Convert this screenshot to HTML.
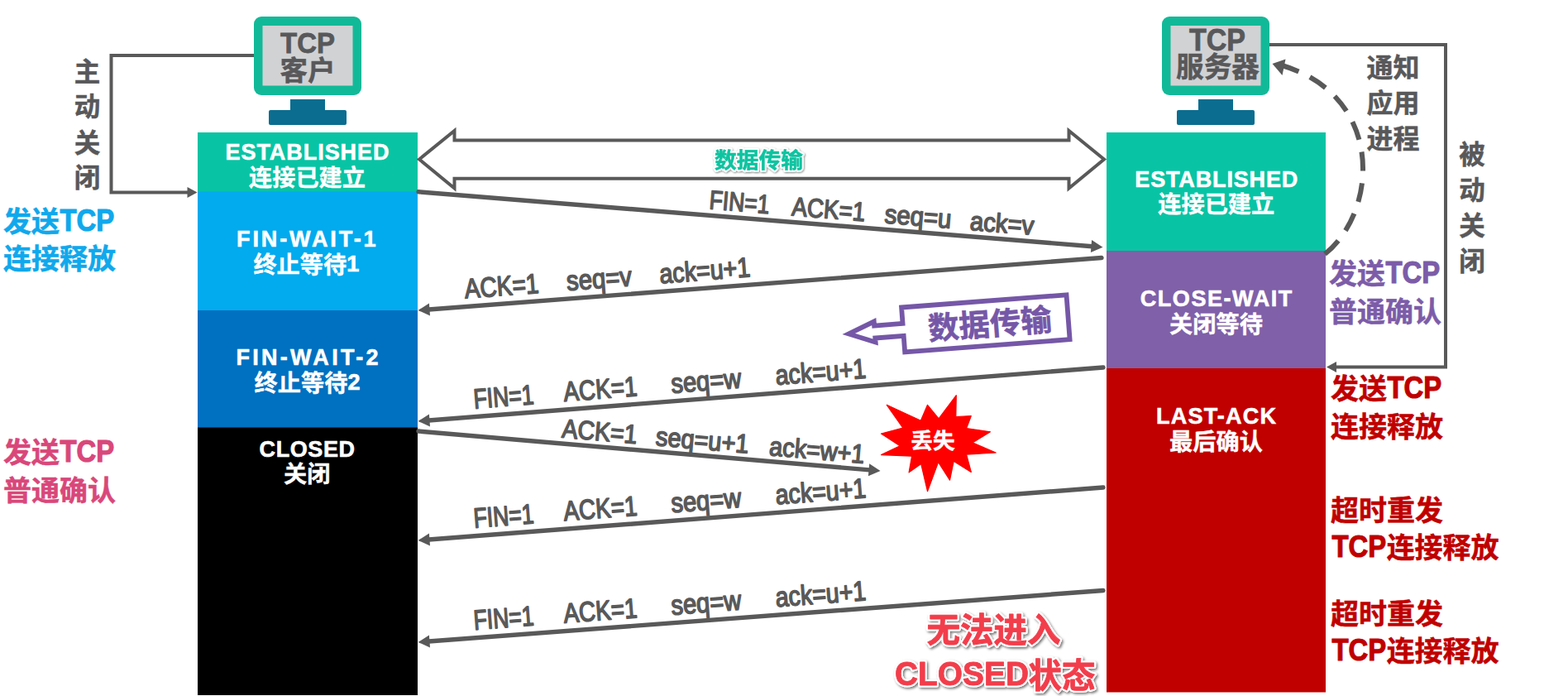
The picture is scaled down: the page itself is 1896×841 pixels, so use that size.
<!DOCTYPE html>
<html lang="zh-CN">
<head>
<meta charset="utf-8">
<title>TCP 连接释放 - 最后确认丢失</title>
<style>
html,body{margin:0;padding:0;background:#fff;overflow:hidden}
svg{display:block}
text{font-family:"Liberation Sans","Noto Sans CJK SC",sans-serif}
</style>
</head>
<body>
<svg width="1896" height="841" viewBox="0 0 1896 841">
<defs><filter id="sh" x="-10%" y="-30%" width="120%" height="160%"><feDropShadow dx="0.8" dy="1" stdDeviation="1.2" flood-color="#000" flood-opacity="0.5"/></filter><filter id="sh2" x="-10%" y="-30%" width="120%" height="160%"><feDropShadow dx="1.6" dy="1.8" stdDeviation="1.4" flood-color="#000" flood-opacity="0.55"/></filter></defs>
<rect x="239" y="160" width="266" height="72" fill="#08c4a4"/>
<rect x="239" y="231.5" width="266" height="144" fill="#02aaee"/>
<rect x="239" y="375" width="266" height="142" fill="#0070c0"/>
<rect x="239" y="516.5" width="266" height="323.5" fill="#000000"/>
<rect x="1338" y="160" width="265" height="143.5" fill="#08c4a4"/>
<rect x="1338" y="303" width="265" height="142.5" fill="#8060a8"/>
<rect x="1338" y="445" width="265" height="391.5" fill="#c00000"/>
<g><rect x="307.0" y="20" width="130" height="95" rx="9" fill="#12b998"/><rect x="317.5" y="31" width="109" height="72.5" fill="#d1d2d4"/><rect x="351.0" y="120" width="42" height="14" fill="#0b6d90"/><rect x="325.0" y="133" width="94" height="18" rx="2" fill="#0b6d90"/></g>
<g><rect x="1405.0" y="20" width="130" height="95" rx="9" fill="#12b998"/><rect x="1415.5" y="31" width="109" height="72.5" fill="#d1d2d4"/><rect x="1449.0" y="120" width="42" height="14" fill="#0b6d90"/><rect x="1423.0" y="133" width="94" height="18" rx="2" fill="#0b6d90"/></g>
<text x="372.00" y="64.30" font-size="35.60" text-anchor="middle" textLength="66.00" lengthAdjust="spacingAndGlyphs" fill="#58585a" font-weight="bold" stroke="#58585a" stroke-width="0.8">TCP</text>
<text x="338.50" y="96.50" font-size="33.50" fill="#58585a" font-weight="bold" stroke="#58585a" stroke-width="0.5">客户</text>
<text x="1472.00" y="60.80" font-size="36.20" text-anchor="middle" textLength="68.00" lengthAdjust="spacingAndGlyphs" fill="#58585a" font-weight="bold" stroke="#58585a" stroke-width="0.8">TCP</text>
<text x="1422.10" y="93.30" font-size="33.60" fill="#58585a" font-weight="bold" stroke="#58585a" stroke-width="0.5">服务器</text>
<text x="371.50" y="193.00" font-size="27.00" text-anchor="middle" textLength="198.00" lengthAdjust="spacing" fill="#ffffff" font-weight="bold" stroke="#fff" stroke-width="0.6">ESTABLISHED</text><text x="301.00" y="224.50" font-size="28.20" fill="#ffffff" font-weight="bold" stroke="#ffffff" stroke-width="0.4">连接已建立</text>
<text x="370.30" y="298.30" font-size="27.00" text-anchor="middle" textLength="168.50" lengthAdjust="spacing" fill="#ffffff" font-weight="bold" stroke="#fff" stroke-width="0.6">FIN-WAIT-1</text><text x="306.39" y="329.80" font-size="28.20" fill="#ffffff" font-weight="bold" stroke="#ffffff" stroke-width="0.4">终止等待</text><text x="419.19" y="328.30" font-size="27.00" fill="#ffffff" font-weight="bold" stroke="#fff" stroke-width="0.7">1</text>
<text x="371.50" y="441.30" font-size="27.00" text-anchor="middle" textLength="172.00" lengthAdjust="spacing" fill="#ffffff" font-weight="bold" stroke="#fff" stroke-width="0.6">FIN-WAIT-2</text><text x="307.59" y="472.80" font-size="28.20" fill="#ffffff" font-weight="bold" stroke="#ffffff" stroke-width="0.4">终止等待</text><text x="420.39" y="471.30" font-size="27.00" fill="#ffffff" font-weight="bold" stroke="#fff" stroke-width="0.7">2</text>
<text x="371.30" y="551.50" font-size="27.00" text-anchor="middle" textLength="115.50" lengthAdjust="spacing" fill="#ffffff" font-weight="bold" stroke="#fff" stroke-width="0.6">CLOSED</text><text x="343.10" y="583.00" font-size="28.20" fill="#ffffff" font-weight="bold" stroke="#ffffff" stroke-width="0.4">关闭</text>
<text x="1470.80" y="225.80" font-size="27.00" text-anchor="middle" textLength="197.00" lengthAdjust="spacing" fill="#ffffff" font-weight="bold" stroke="#fff" stroke-width="0.6">ESTABLISHED</text><text x="1400.30" y="257.30" font-size="28.20" fill="#ffffff" font-weight="bold" stroke="#ffffff" stroke-width="0.4">连接已建立</text>
<text x="1470.50" y="370.00" font-size="27.00" text-anchor="middle" textLength="183.50" lengthAdjust="spacing" fill="#ffffff" font-weight="bold" stroke="#fff" stroke-width="0.6">CLOSE-WAIT</text><text x="1414.10" y="401.50" font-size="28.20" fill="#ffffff" font-weight="bold" stroke="#ffffff" stroke-width="0.4">关闭等待</text>
<text x="1470.50" y="512.00" font-size="27.00" text-anchor="middle" textLength="145.00" lengthAdjust="spacing" fill="#ffffff" font-weight="bold" stroke="#fff" stroke-width="0.6">LAST-ACK</text><text x="1414.10" y="543.50" font-size="28.20" fill="#ffffff" font-weight="bold" stroke="#ffffff" stroke-width="0.4">最后确认</text>
<g fill="none" stroke="#595959" stroke-width="4" stroke-linejoin="miter">
<path d="M307 67 H134.5 V232.5 H229"/>
<path d="M1535 54 H1748 V443.5 H1613"/>
</g>
<path d="M238.5 232.5 L226.5 226 V239 Z" fill="#595959"/>
<path d="M1604 443.5 L1616 437 V450 Z" fill="#595959"/>
<text x="89.75" y="97.50" font-size="31.50" fill="#58585a" font-weight="bold" stroke="#58585a" stroke-width="0.5">主</text><text x="89.75" y="140.00" font-size="31.50" fill="#58585a" font-weight="bold" stroke="#58585a" stroke-width="0.5">动</text><text x="89.75" y="183.50" font-size="31.50" fill="#58585a" font-weight="bold" stroke="#58585a" stroke-width="0.5">关</text><text x="89.75" y="226.00" font-size="31.50" fill="#58585a" font-weight="bold" stroke="#58585a" stroke-width="0.5">闭</text>
<text x="1764.25" y="197.50" font-size="31.50" fill="#58585a" font-weight="bold" stroke="#58585a" stroke-width="0.5">被</text><text x="1764.25" y="240.50" font-size="31.50" fill="#58585a" font-weight="bold" stroke="#58585a" stroke-width="0.5">动</text><text x="1764.25" y="283.50" font-size="31.50" fill="#58585a" font-weight="bold" stroke="#58585a" stroke-width="0.5">关</text><text x="1764.25" y="326.50" font-size="31.50" fill="#58585a" font-weight="bold" stroke="#58585a" stroke-width="0.5">闭</text>
<text x="1652.50" y="92.50" font-size="32.00" fill="#58585a" font-weight="bold" stroke="#58585a" stroke-width="0.5">通知</text>
<text x="1652.50" y="135.50" font-size="32.00" fill="#58585a" font-weight="bold" stroke="#58585a" stroke-width="0.5">应用</text>
<text x="1652.50" y="178.50" font-size="32.00" fill="#58585a" font-weight="bold" stroke="#58585a" stroke-width="0.5">进程</text>
<text x="4.00" y="279.50" font-size="34.00" fill="#10a8ec" font-weight="bold" stroke="#10a8ec" stroke-width="0.5">发送</text><text x="72.50" y="278.50" font-size="36.38" textLength="65.64" lengthAdjust="spacingAndGlyphs" fill="#10a8ec" font-weight="bold" stroke="#10a8ec" stroke-width="1.1">TCP</text>
<text x="4.00" y="325.00" font-size="34.00" fill="#10a8ec" font-weight="bold" stroke="#10a8ec" stroke-width="0.5">连接释放</text>
<text x="4.00" y="559.00" font-size="34.00" fill="#d9477a" font-weight="bold" stroke="#d9477a" stroke-width="0.5">发送</text><text x="72.50" y="558.00" font-size="36.38" textLength="65.64" lengthAdjust="spacingAndGlyphs" fill="#d9477a" font-weight="bold" stroke="#d9477a" stroke-width="1.1">TCP</text>
<text x="4.00" y="605.00" font-size="34.00" fill="#d9477a" font-weight="bold" stroke="#d9477a" stroke-width="0.5">普通确认</text>
<text x="1607.00" y="343.00" font-size="34.00" fill="#7c5ca8" font-weight="bold" stroke="#7c5ca8" stroke-width="0.5">发送</text><text x="1675.50" y="342.00" font-size="36.38" textLength="65.64" lengthAdjust="spacingAndGlyphs" fill="#7c5ca8" font-weight="bold" stroke="#7c5ca8" stroke-width="1.1">TCP</text>
<text x="1607.00" y="389.00" font-size="34.00" fill="#7c5ca8" font-weight="bold" stroke="#7c5ca8" stroke-width="0.5">普通确认</text>
<text x="1609.00" y="482.00" font-size="34.00" fill="#c00000" font-weight="bold" stroke="#c00000" stroke-width="0.5">发送</text><text x="1677.50" y="481.00" font-size="36.38" textLength="65.64" lengthAdjust="spacingAndGlyphs" fill="#c00000" font-weight="bold" stroke="#c00000" stroke-width="1.1">TCP</text>
<text x="1609.00" y="528.00" font-size="34.00" fill="#c00000" font-weight="bold" stroke="#c00000" stroke-width="0.5">连接释放</text>
<text x="1609.00" y="629.00" font-size="34.00" fill="#c00000" font-weight="bold" stroke="#c00000" stroke-width="0.5">超时重发</text>
<text x="1610.50" y="673.00" font-size="36.38" textLength="65.64" lengthAdjust="spacingAndGlyphs" fill="#c00000" font-weight="bold" stroke="#c00000" stroke-width="1.1">TCP</text><text x="1676.64" y="674.00" font-size="34.00" fill="#c00000" font-weight="bold" stroke="#c00000" stroke-width="0.5">连接释放</text>
<text x="1609.00" y="753.50" font-size="34.00" fill="#c00000" font-weight="bold" stroke="#c00000" stroke-width="0.5">超时重发</text>
<text x="1610.50" y="797.50" font-size="36.38" textLength="65.64" lengthAdjust="spacingAndGlyphs" fill="#c00000" font-weight="bold" stroke="#c00000" stroke-width="1.1">TCP</text><text x="1676.64" y="798.50" font-size="34.00" fill="#c00000" font-weight="bold" stroke="#c00000" stroke-width="0.5">连接释放</text>
<path d="M507 192.5 L549.5 158 V169.5 H1292.5 V158 L1335 192.5 L1292.5 227.5 V215.7 H549.5 V227.5 Z" fill="#fff" stroke="#595959" stroke-width="4" stroke-linejoin="miter"/>
<line x1="506.0" y1="231.8" x2="1320.5" y2="297.7" stroke="#595959" stroke-width="5.4" stroke-linecap="round"/><path d="M1333.5 298.7 L1318.9 305.0 L1320.1 290.1 Z" fill="#595959"/>
<line x1="1332.0" y1="311.5" x2="518.5" y2="374.0" stroke="#595959" stroke-width="5.4" stroke-linecap="round"/><path d="M505.5 375.0 L518.9 366.4 L520.0 381.4 Z" fill="#595959"/>
<line x1="1334.0" y1="444.0" x2="518.5" y2="508.0" stroke="#595959" stroke-width="5.4" stroke-linecap="round"/><path d="M505.5 509.0 L518.9 500.4 L520.0 515.4 Z" fill="#595959"/>
<line x1="506.0" y1="521.0" x2="1051.5" y2="567.9" stroke="#595959" stroke-width="5.4" stroke-linecap="round"/><path d="M1064.5 569.0 L1049.9 575.3 L1051.2 560.3 Z" fill="#595959"/>
<line x1="1334.0" y1="589.0" x2="518.5" y2="652.0" stroke="#595959" stroke-width="5.4" stroke-linecap="round"/><path d="M505.5 653.0 L518.9 644.4 L520.0 659.4 Z" fill="#595959"/>
<line x1="1334.0" y1="713.5" x2="518.5" y2="775.0" stroke="#595959" stroke-width="5.4" stroke-linecap="round"/><path d="M505.5 776.0 L518.9 767.5 L520.0 782.4 Z" fill="#595959"/>
<text transform="translate(857.0 252.2) rotate(4.62) scale(0.8274 1)" font-size="32.0" fill="#595959" stroke="#595959" stroke-width="1.6" stroke-linejoin="round">FIN=1</text><text transform="translate(956.8 260.2) rotate(4.62) scale(0.8681 1)" font-size="32.0" fill="#595959" stroke="#595959" stroke-width="1.6" stroke-linejoin="round">ACK=1</text><text transform="translate(1069.0 269.3) rotate(4.62) scale(0.9181 1)" font-size="32.0" fill="#595959" stroke="#595959" stroke-width="1.6" stroke-linejoin="round">seq=u</text><text transform="translate(1172.3 277.7) rotate(4.62) scale(0.9156 1)" font-size="32.0" fill="#595959" stroke="#595959" stroke-width="1.6" stroke-linejoin="round">ack=v</text>
<text transform="translate(562.4 360.6) rotate(-4.39) scale(0.8421 1)" font-size="33.5" fill="#595959" stroke="#595959" stroke-width="1.6" stroke-linejoin="round">ACK=1</text><text transform="translate(685.8 351.1) rotate(-4.39) scale(0.8761 1)" font-size="33.5" fill="#595959" stroke="#595959" stroke-width="1.6" stroke-linejoin="round">seq=v</text><text transform="translate(798.2 342.5) rotate(-4.39) scale(0.8569 1)" font-size="33.5" fill="#595959" stroke="#595959" stroke-width="1.6" stroke-linejoin="round">ack=u+1</text>
<text transform="translate(573.4 493.7) rotate(-4.49) scale(0.7935 1)" font-size="33.5" fill="#595959" stroke="#595959" stroke-width="1.6" stroke-linejoin="round">FIN=1</text><text transform="translate(682.3 485.1) rotate(-4.49) scale(0.8328 1)" font-size="33.5" fill="#595959" stroke="#595959" stroke-width="1.6" stroke-linejoin="round">ACK=1</text><text transform="translate(812.2 474.9) rotate(-4.49) scale(0.8700 1)" font-size="33.5" fill="#595959" stroke="#595959" stroke-width="1.6" stroke-linejoin="round">seq=w</text><text transform="translate(938.5 465.0) rotate(-4.49) scale(0.8546 1)" font-size="33.5" fill="#595959" stroke="#595959" stroke-width="1.6" stroke-linejoin="round">ack=u+1</text>
<text transform="translate(678.8 528.4) rotate(4.91) scale(0.8920 1)" font-size="32.0" fill="#595959" stroke="#595959" stroke-width="1.6" stroke-linejoin="round">ACK=1</text><text transform="translate(792.2 538.1) rotate(4.91) scale(0.9057 1)" font-size="32.0" fill="#595959" stroke="#595959" stroke-width="1.6" stroke-linejoin="round">seq=u+1</text><text transform="translate(929.6 549.9) rotate(4.91) scale(0.8996 1)" font-size="32.0" fill="#595959" stroke="#595959" stroke-width="1.6" stroke-linejoin="round">ack=w+1</text>
<text transform="translate(573.4 637.8) rotate(-4.42) scale(0.7934 1)" font-size="33.5" fill="#595959" stroke="#595959" stroke-width="1.6" stroke-linejoin="round">FIN=1</text><text transform="translate(682.3 629.3) rotate(-4.42) scale(0.8327 1)" font-size="33.5" fill="#595959" stroke="#595959" stroke-width="1.6" stroke-linejoin="round">ACK=1</text><text transform="translate(812.2 619.3) rotate(-4.42) scale(0.8699 1)" font-size="33.5" fill="#595959" stroke="#595959" stroke-width="1.6" stroke-linejoin="round">seq=w</text><text transform="translate(938.5 609.6) rotate(-4.42) scale(0.8545 1)" font-size="33.5" fill="#595959" stroke="#595959" stroke-width="1.6" stroke-linejoin="round">ack=u+1</text>
<text transform="translate(573.4 760.9) rotate(-4.31) scale(0.7933 1)" font-size="33.5" fill="#595959" stroke="#595959" stroke-width="1.6" stroke-linejoin="round">FIN=1</text><text transform="translate(682.3 752.7) rotate(-4.31) scale(0.8326 1)" font-size="33.5" fill="#595959" stroke="#595959" stroke-width="1.6" stroke-linejoin="round">ACK=1</text><text transform="translate(812.2 742.9) rotate(-4.31) scale(0.8698 1)" font-size="33.5" fill="#595959" stroke="#595959" stroke-width="1.6" stroke-linejoin="round">seq=w</text><text transform="translate(938.5 733.3) rotate(-4.31) scale(0.8544 1)" font-size="33.5" fill="#595959" stroke="#595959" stroke-width="1.6" stroke-linejoin="round">ack=u+1</text>
<g filter="url(#sh)"><text x="864.10" y="203.00" font-size="26.70" fill="#fff" font-weight="bold" stroke="#fff" stroke-width="4.5" stroke-linejoin="round">数据传输</text><text x="864.10" y="203.00" font-size="26.70" fill="#10c3a0" font-weight="bold" stroke="#10c3a0" stroke-width="0.5" stroke-linejoin="round">数据传输</text></g>
<g transform="translate(1087.4 369.2) rotate(-4.35)">
<path d="M2.5 2.5 H202.5 V56.5 H2.5 V37 H-32 V42 L-63.5 29.5 L-32 17 V22 H2.5 Z" fill="#fff" stroke="#7557a7" stroke-width="5.8" stroke-linejoin="miter"/>
<text x="32.50" y="44.00" font-size="37.50" fill="#7557a7" font-weight="bold" stroke="#7557a7" stroke-width="0.6">数据传输</text>
</g>
<polygon points="1156.3,477.7 1155.8,503.7 1174.3,502.5 1168.6,517.6 1197.5,521.8 1175.9,534.9 1204.2,547.0 1168.6,549.1 1174.3,570.5 1153.2,557.3 1148.5,580.1 1134.6,558.4 1121.5,593.7 1113.7,560.4 1099.1,570.8 1102.6,551.2 1065.5,549.6 1088.2,538.8 1065.5,524.1 1091.8,517.1 1072.3,489.3 1113.4,508.3 1121.5,489.3 1135.1,505.9" fill="#fe0000" stroke="#fe0000" stroke-width="1.2" stroke-linejoin="round"/>
<text x="1101.30" y="541.50" font-size="26.70" fill="#ffffff" font-weight="bold" stroke="#ffffff" stroke-width="0.4">丢失</text>
<g filter="url(#sh2)"><text x="1120.50" y="775.50" font-size="40.50" fill="#fff" font-weight="bold" stroke="#fff" stroke-width="5" stroke-linejoin="round">无法进入</text><text x="1120.50" y="775.50" font-size="40.50" fill="#f23d4b" font-weight="bold" stroke="#f23d4b" stroke-width="0.8" stroke-linejoin="round">无法进入</text></g>
<g filter="url(#sh2)"><text x="1082.00" y="827.80" font-size="40.00" textLength="162.00" lengthAdjust="spacingAndGlyphs" fill="#fff" font-weight="bold" stroke="#fff" stroke-width="5" stroke-linejoin="round">CLOSED</text><text x="1082.00" y="827.80" font-size="40.00" textLength="162.00" lengthAdjust="spacingAndGlyphs" fill="#f23d4b" font-weight="bold" stroke="#f23d4b" stroke-width="0.8" stroke-linejoin="round">CLOSED</text></g>
<g filter="url(#sh2)"><text x="1243.50" y="830.50" font-size="40.50" fill="#fff" font-weight="bold" stroke="#fff" stroke-width="5" stroke-linejoin="round">状态</text><text x="1243.50" y="830.50" font-size="40.50" fill="#f23d4b" font-weight="bold" stroke="#f23d4b" stroke-width="0.8" stroke-linejoin="round">状态</text></g>
<path d="M1602 307 C1667.9 254 1673.3 115.2 1550 79" fill="none" stroke="#595959" stroke-width="6" stroke-dasharray="23 15"/>
<path d="M1538.5 77 L1554.5 71.5 L1550.5 91 Z" fill="#595959"/>
</svg>
</body>
</html>
